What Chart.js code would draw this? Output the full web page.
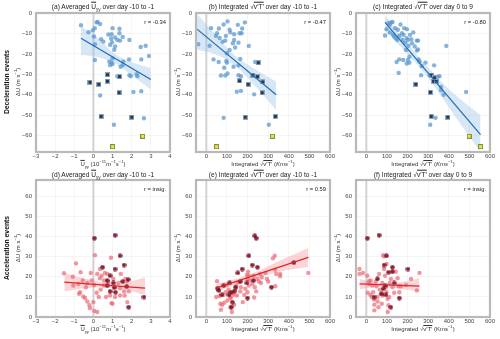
<!DOCTYPE html>
<html>
<head>
<meta charset="utf-8">
<script src="https://cdn.jsdelivr.net/npm/chart.js@4.4.1/dist/chart.umd.min.js"></script>
<style>
  body { margin: 0; width: 500px; height: 339px; background: #fff; position: relative; overflow: hidden;
         font-family: "Liberation Sans", Arial, sans-serif; }
  canvas { position: absolute; left: 0; top: 0; }
  .t { position: absolute; white-space: nowrap; color: #222; transform: translate(-50%, -50%); line-height: 1; }
  .title { font-size: 6.6px; }
  .axl { font-size: 6px; color: #333; }
  .row { font-size: 6.8px; font-weight: bold; color: #111; }
  .rv { font-size: 5.8px; color: #222; transform: translate(-100%, -50%); }
  .rot { transform: translate(-50%, -50%) rotate(-90deg); }
  .ov { text-decoration: overline; }
  sub, sup { font-size: 0.7em; line-height: 0; }
</style>
</head>
<body>
<script>
// tick labels
const xTicksU = [-3, -2, -1, 0, 1, 2, 3, 4];
const xTicksV = [0, 100, 200, 300, 400, 500, 600];
const yTicksDec = [0, -10, -20, -30, -40, -50, -60];
const yTicksAcc = [0, 10, 20, 30, 40, 50, 60];

// (a) averaged Uyy, deceleration events
const aBlue = [[-0.65,-6],[-0.26,-9.4],[-0.04,-8.5],[0.17,-4.6],[0.22,-4.4],[0.35,-5.4],[0.07,-7.4],[0.03,-11.5],[0.08,-15.3],[0.4,-12.8],[0.52,-14],[0.78,-10.5],[1.0,-7.4],[1.36,-7.7],[1.36,-9.9],[0.95,-10.4],[0.92,-12.5],[1.13,-12],[1.25,-13.2],[1.39,-13.5],[0.97,-14.3],[1.13,-16.4],[1.09,-18],[0.87,-15.6],[1.53,-11.7],[1.88,-13.2],[2.73,-16],[2.47,-16.6],[2.9,-21],[0.08,-23],[1.0,-22.2],[0.83,-23.8],[0.95,-24.3],[1.0,-25],[0.87,-25.5],[1.56,-23.8],[1.42,-26.3],[1.53,-25.5],[1.86,-22.7],[1.88,-30.4],[1.95,-30.9],[2.26,-29.9],[2.3,-30.9],[2.5,-22.7],[1.25,-30.9],[0.35,-40.3],[2.09,-38.6],[2.5,-38.3],[1.07,-54.7],[2.64,-51.5]];
const aCross = [[-0.18,-33.9],[0.28,-34.9],[0.73,-30.2],[0.73,-33.4],[1.36,-31.1],[1.34,-39],[0.4,-50.6],[2.0,-51]];
const aYellow = [[1.0,-65.4],[2.57,-60.3]];
const aFit = [[-0.65,-12.3],[3.0,-32.5]];
const aBandX = [-0.65, 0.2, 1.1, 2.0, 3.0];
const aBandHi = [-6.5, -12.0, -19.8, -24.0, -27.0];
const aBandLo = [-20.5, -21.5, -24.5, -30.5, -37.5];

// (b) integrated v'T' day -10 to -1, deceleration events
const bBlue = [[-39,-15.3],[16,-16],[23,-7.4],[35,-22.7],[47,-11.2],[52,-9.9],[65,-12.2],[61,-7.6],[60,-24],[71,-30.6],[79,-14.1],[84,-5.6],[92,-13.5],[95,-11.2],[103,-4.1],[97,-23.5],[100,-19.7],[100,-24.3],[87,-26.8],[92,-30.6],[103,-29.6],[113,-8.2],[113,-18.1],[116,-9.5],[129,-14.8],[135,-10.4],[135,-13.2],[140,-16.9],[132,-26.3],[153,-5.8],[156,-14.5],[161,-9.9],[171,-9.9],[174,-7.6],[187,-4.6],[165,-22.5],[156,-25.6],[156,-30.4],[168,-30.9],[148,-38.5],[168,-38.1],[206,-16.1],[237,-24],[232,-39.8],[84,-51.3],[303,-54.7]];
const bCross = [[161,-33.2],[203,-34.9],[226,-30.4],[248,-31.1],[252,-24.3],[274,-33.7],[271,-39],[189,-51],[335,-50.6]];
const bYellow = [[50,-65.4],[321,-60.3]];
const bFit = [[-45,-7.9],[339,-40]];
const bBandX = [-45, 40, 130, 230, 339];
const bBandHi = [-0.5, -10.0, -20.0, -27.0, -33.5];
const bBandLo = [-18.0, -20.0, -25.0, -35.0, -47.5];

// (c) integrated v'T' day 0 to 9, deceleration events
const cBlue = [[91,-11],[98,-7.9],[108,-4.9],[114,-5.8],[121,-4.6],[127,-4.4],[114,-9.5],[130,-10.5],[135,-11.5],[140,-7.4],[143,-12.3],[150,-13.2],[153,-8.2],[160,-11.2],[166,-5.6],[173,-9.9],[176,-13.2],[181,-10.7],[184,-7.4],[189,-14.5],[196,-12.3],[197,-7.9],[202,-13.2],[205,-16],[209,-21.4],[212,-10.7],[218,-12.8],[222,-14.8],[228,-9.5],[235,-16.4],[192,-18.1],[202,-23],[196,-24.7],[209,-24.3],[179,-23],[160,-22.7],[147,-24],[157,-29.3],[245,-13.5],[251,-17.8],[245,-18.4],[251,-13.5],[254,-22.7],[258,-23.8],[269,-26],[266,-30.4],[287,-24.3],[329,-25.6],[307,-30.4],[347,-31.2],[355,-30.9],[388,-16.1],[362,-36.2],[363,-37.8],[375,-40],[484,-38.6],[336,-51.3],[310,-54.7]];
const cCross = [[240,-34.9],[315,-30.4],[326,-33.4],[331,-31.7],[339,-33.4],[311,-38.8],[315,-50.6],[395,-51]];
const cYellow = [[499,-60.3],[554,-65.4]];
const cFit = [[91,-4.6],[554,-59.5]];
const cBandX = [91, 200, 290, 420, 554];
const cBandHi = [-1.5, -15.0, -25.5, -39.0, -50.0];
const cBandLo = [-8.5, -20.0, -30.5, -49.0, -68.0];

// (d) averaged Uyy, acceleration events
const dRed = [[-1.54,21.7],[-0.91,26.6],[-1.08,20],[-0.67,22.2],[-0.79,16.4],[-0.56,18.1],[-1.05,15.6],[-0.7,12.3],[-0.75,11.5],[-0.53,10.2],[-0.44,9.4],[-0.32,7.7],[-0.21,5.8],[-0.18,4.4],[-0.14,21.9],[-0.09,18.1],[-0.32,16.9],[-0.39,14.8],[0.08,30.7],[0.05,3.0],[0.2,2.5],[0.0,7.4],[0.17,12],[0.2,21.4],[0.34,19.2],[0.43,20.5],[0.34,23.8],[0.6,21.9],[0.72,21.4],[0.55,15.6],[0.38,13.6],[0.28,9.9],[0.66,9.9],[0.87,10.7],[0.94,6.9],[1.0,6.6],[0.92,29.4],[1.04,18.9],[1.3,16.9],[1.39,14.3],[1.13,9.9],[1.39,10.7],[1.6,12.7],[1.67,18.9],[1.74,17.6],[1.43,21.4],[1.63,10.7],[1.77,7.4],[1.84,12.7],[0.55,18.1],[0.03,15.9],[0.78,17.3]];
const dDark = [[0.05,39.1],[1.13,40.6],[1.39,30.4],[1.6,25.8],[0.48,24.7],[0.72,18.1],[0.87,20.5],[1.13,23.8],[1.04,16.9],[1.09,14.6],[0.87,12.7],[1.15,12.3],[1.74,15.1],[1.84,4.9],[2.64,9.9],[1.81,18.6],[1.53,17.6],[0.72,15.6]];
const dFit = [[-1.52,17.3],[2.7,14.3]];
const dBandX = [-1.52, -0.5, 0.6, 1.6, 2.7];
const dBandHi = [21.9, 19.2, 17.0, 16.8, 19.7];
const dBandLo = [12.7, 14.2, 14.6, 13.4, 11.0];

// (e) integrated v'T' day -10 to -1, acceleration events
const eRed = [[52,17.8],[48,9.9],[65,10.4],[68,6.6],[71,3.6],[77,6.1],[87,7.1],[84,11],[94,12.3],[100,15.9],[103,8.2],[108,13.6],[116,9.9],[116,4.9],[119,9.4],[124,2.5],[126,12],[132,11],[135,6.1],[142,14],[145,15.6],[148,10.7],[156,17.3],[165,12.7],[168,14.8],[177,7.4],[184,11],[189,14],[197,20.9],[200,18.9],[203,22.5],[206,20.5],[206,15.6],[200,12.3],[213,18.1],[223,16.4],[229,20.5],[232,9.7],[235,14.8],[242,12.7],[248,18.9],[255,17.6],[261,21.4],[265,16.9],[269,19.7],[287,21.9],[294,18.9],[300,17.6],[323,29.1],[332,30.4],[334,23.5],[339,21.4],[358,21.4],[358,20.2],[335,15.3],[495,21.9]];
const eDark = [[55,14.3],[61,13.2],[76,11],[113,16.9],[110,11],[119,12.3],[135,12.7],[142,14.8],[153,21.9],[174,23.8],[165,17.6],[200,9.4],[206,30.4],[223,25.8],[235,40.3],[242,39.1],[248,24.7],[197,16.9],[229,18.1],[316,14.8],[121,4.9],[126,7.4],[84,15.6],[425,27]];
const eFit = [[48,14.3],[495,29.6]];
const eBandX = [48, 150, 250, 370, 495];
const eBandHi = [16.4, 19.0, 22.8, 28.5, 34.2];
const eBandLo = [12.3, 16.6, 19.6, 22.8, 24.8];

// (f) integrated v'T' day 0 to 9, acceleration events
const fRed = [[-33,23.8],[-33,21.4],[-16,21.9],[5,20.5],[13,17.8],[21,18.1],[13,16.4],[7,12],[20,11],[26,9.9],[29,15.6],[33,12.3],[38,8.7],[39,6.1],[39,3.3],[46,17.6],[49,15.3],[54,9.9],[55,7.7],[59,4.9],[62,21.4],[65,13.6],[70,11.5],[78,10.7],[75,6.6],[78,16.9],[82,30.7],[86,30.1],[86,23.8],[91,20.5],[95,14.8],[98,12.3],[98,26.3],[103,9],[104,2.5],[108,5.8],[111,9.9],[114,16.9],[119,18.9],[127,14.8],[135,12],[143,22.5],[152,19.2],[157,15.3],[160,12.3],[168,15.3],[192,15.9],[217,18.9],[245,13.2],[258,21.9]];
const fDark = [[5,39.1],[62,40.6],[98,30.4],[86,25.8],[108,22.2],[127,24.7],[127,22.5],[202,23.8],[38,9.9],[75,11.5],[82,14],[119,4.9],[160,9.4],[54,18.9],[91,15.6],[135,16.9],[95,11]];
const fFit = [[-33,16.4],[258,15.3]];
const fBandX = [-33, 40, 110, 180, 258];
const fBandHi = [18.9, 17.3, 16.8, 17.5, 19.2];
const fBandLo = [13.6, 14.9, 14.8, 13.8, 12.7];

// marker images
function marker(size, draw) {
  const c = document.createElement('canvas');
  c.width = size; c.height = size;
  draw(c.getContext('2d'));
  return c;
}
const crossSq = marker(5, g => {
  g.fillStyle = '#8fa6bf'; g.fillRect(0, 0, 5, 5);
  g.fillStyle = '#253a52'; g.fillRect(1, 1, 3, 3);
});
const yellowSq = marker(5, g => {
  g.fillStyle = '#8a8a45'; g.fillRect(0, 0, 5, 5);
  g.fillStyle = '#e2ea3c'; g.fillRect(1, 1, 3, 3);
});
const darkStar = marker(5, g => {
  g.fillStyle = 'rgba(125,16,32,0.9)';
  g.beginPath(); g.arc(2.5, 2.5, 2.3, 0, Math.PI * 2); g.fill();
});

const pts = arr => arr.map(p => ({x: p[0], y: p[1]}));
const band = (xs, ys) => xs.map((x, i) => ({x: x, y: ys[i]}));

const panels = [
  {box: [36, 13, 170, 152], x: [-3, 4], y: [-68, 0], xt: xTicksU, yt: yTicksDec, dec: true,
   main: aBlue, cross: aCross, yellow: aYellow, fit: aFit, bx: aBandX, hi: aBandHi, lo: aBandLo},
  {box: [196, 13, 330, 152], x: [-50, 600], y: [-68, 0], xt: xTicksV, yt: yTicksDec, dec: true,
   main: bBlue, cross: bCross, yellow: bYellow, fit: bFit, bx: bBandX, hi: bBandHi, lo: bBandLo},
  {box: [356, 13, 490, 152], x: [-50, 600], y: [-68, 0], xt: xTicksV, yt: yTicksDec, dec: true,
   main: cBlue, cross: cCross, yellow: cYellow, fit: cFit, bx: cBandX, hi: cBandHi, lo: cBandLo},
  {box: [36, 180, 170, 317], x: [-3, 4], y: [0, 68], xt: xTicksU, yt: yTicksAcc, dec: false,
   main: dRed, dark: dDark, fit: dFit, bx: dBandX, hi: dBandHi, lo: dBandLo},
  {box: [196, 180, 330, 317], x: [-50, 600], y: [0, 68], xt: xTicksV, yt: yTicksAcc, dec: false,
   main: eRed, dark: eDark, fit: eFit, bx: eBandX, hi: eBandHi, lo: eBandLo},
  {box: [356, 180, 490, 317], x: [-50, 600], y: [0, 68], xt: xTicksV, yt: yTicksAcc, dec: false,
   main: fRed, dark: fDark, fit: fFit, bx: fBandX, hi: fBandHi, lo: fBandLo}
];

// frame around the plot and grey line at x = 0
const framePlugin = {
  id: 'frame',
  beforeDatasetsDraw(chart) {
    const g = chart.ctx, a = chart.chartArea, x0 = chart.scales.x.getPixelForValue(0);
    g.save();
    g.strokeStyle = '#d2d2d2'; g.lineWidth = 2;
    g.beginPath(); g.moveTo(x0, a.top); g.lineTo(x0, a.bottom); g.stroke();
    g.restore();
  },
  afterDraw(chart) {
    const g = chart.ctx, a = chart.chartArea;
    g.save();
    g.strokeStyle = '#b9b9b9'; g.lineWidth = 2.2;
    g.strokeRect(a.left, a.top, a.right - a.left, a.bottom - a.top);
    g.restore();
  }
};

const fmt = v => (v < 0 ? '\u2212' + Math.abs(v) : '' + v);

panels.forEach((p, i) => {
  const cv = document.createElement('canvas');
  cv.width = 500; cv.height = 339;
  document.body.appendChild(cv);
  const [l, t, r, b] = p.box;
  const lineCol = p.dec ? '#1f6db3' : '#e0262c';
  const bandCol = p.dec ? 'rgba(150,192,230,0.38)' : 'rgba(242,140,148,0.36)';
  const ds = [
    {type: 'line', data: band(p.bx, p.lo), borderWidth: 0, pointRadius: 0, tension: 0.4, fill: false, order: 5},
    {type: 'line', data: band(p.bx, p.hi), borderWidth: 0, pointRadius: 0, tension: 0.4, fill: '-1', backgroundColor: bandCol, order: 5},
    {data: pts(p.main), pointRadius: 2.2, borderWidth: 0,
     backgroundColor: p.dec ? 'rgba(88,150,206,0.72)' : 'rgba(234,100,112,0.68)', order: 3}
  ];
  if (p.dec) {
    ds.push({data: pts(p.cross), pointStyle: crossSq, order: 2});
    ds.push({data: pts(p.yellow), pointStyle: yellowSq, order: 2});
  } else {
    ds.push({data: pts(p.dark), pointStyle: darkStar, order: 2});
  }
  ds.push({type: 'line', data: pts(p.fit), borderColor: lineCol, borderWidth: 1.2, pointRadius: 0, fill: false, order: 0});

  new Chart(cv, {
    type: 'scatter',
    data: {datasets: ds},
    options: {
      responsive: false, animation: false, events: [],
      layout: {padding: {left: l - 36, top: t, right: 500 - r, bottom: 339 - b - 14}},
      plugins: {legend: {display: false}, tooltip: {enabled: false}},
      scales: {
        x: {
          type: 'linear', min: p.x[0], max: p.x[1],
          afterBuildTicks: s => { s.ticks = p.xt.map(v => ({value: v})); },
          afterFit: s => { s.height = 14; },
          grid: {color: '#eeeeee', lineWidth: 0.6, drawTicks: false},
          border: {display: false},
          ticks: {padding: 1, color: '#444', font: {size: 6, family: 'Liberation Sans'}, callback: fmt, maxRotation: 0}
        },
        y: {
          type: 'linear', min: p.y[0], max: p.y[1],
          afterBuildTicks: s => { s.ticks = p.yt.map(v => ({value: v})); },
          afterFit: s => { s.width = 36; },
          grid: {color: '#eeeeee', lineWidth: 0.6, drawTicks: false},
          border: {display: false},
          ticks: {padding: 4, color: '#444', font: {size: 6, family: 'Liberation Sans'}, callback: fmt}
        }
      }
    },
    plugins: [framePlugin]
  });
});

// text
const U = '<span class="ov">U</span><sub>yy</sub>';
const V = '\u221A<span class="ov">v\u2032T\u2032</span>';
const texts = [
  ['title', 103, 7, '(a) Averaged ' + U + ' over day -10 to -1'],
  ['title', 263, 7, '(b) Integrated ' + V + ' over day -10 to -1'],
  ['title', 423, 7, '(c) Integrated ' + V + ' over day 0 to 9'],
  ['title', 103, 175, '(d) Averaged ' + U + ' over day -10 to -1'],
  ['title', 263, 175, '(e) Integrated ' + V + ' over day -10 to -1'],
  ['title', 423, 175, '(f) Integrated ' + V + ' over day 0 to 9'],
  ['axl', 103, 164, U + ' (10<sup>\u221211</sup><i>m</i><sup>\u22121</sup><i>s</i><sup>\u22121</sup>)'],
  ['axl', 263, 164, 'Integrated ' + V + ' (<i>Kms</i><sup>\u22121</sup>)'],
  ['axl', 423, 164, 'Integrated ' + V + ' (<i>Kms</i><sup>\u22121</sup>)'],
  ['axl', 103, 329, U + ' (10<sup>\u221211</sup><i>m</i><sup>\u22121</sup><i>s</i><sup>\u22121</sup>)'],
  ['axl', 263, 329, 'Integrated ' + V + ' (Kms<sup>\u22121</sup>)'],
  ['axl', 423, 329, 'Integrated ' + V + ' (Kms<sup>\u22121</sup>)']
];
texts.forEach(t => {
  const d = document.createElement('div');
  d.className = 't ' + t[0];
  d.style.left = t[1] + 'px'; d.style.top = t[2] + 'px';
  d.innerHTML = t[3];
  document.body.appendChild(d);
});

const yLab = '\u0394U (m s<sup>\u22121</sup>)';
[[18, 82], [178, 82], [338, 82], [18, 248], [178, 248], [338, 248]].forEach(q => {
  const d = document.createElement('div');
  d.className = 't axl rot';
  d.style.left = q[0] + 'px'; d.style.top = q[1] + 'px';
  d.innerHTML = yLab;
  document.body.appendChild(d);
});

[['Deceleration events', 82], ['Acceleration events', 248]].forEach(q => {
  const d = document.createElement('div');
  d.className = 't row rot';
  d.style.left = '7px'; d.style.top = q[1] + 'px';
  d.textContent = q[0];
  document.body.appendChild(d);
});

[['r = -0.34', 166, 23], ['r = -0.47', 326, 23], ['r = -0.80', 486, 23],
 ['r = insig.', 166, 190], ['r = 0.59', 326, 190], ['r = insig.', 486, 190]].forEach(q => {
  const d = document.createElement('div');
  d.className = 't rv';
  d.style.left = q[1] + 'px'; d.style.top = q[2] + 'px';
  d.textContent = q[0];
  document.body.appendChild(d);
});
</script>
</body>
</html>
